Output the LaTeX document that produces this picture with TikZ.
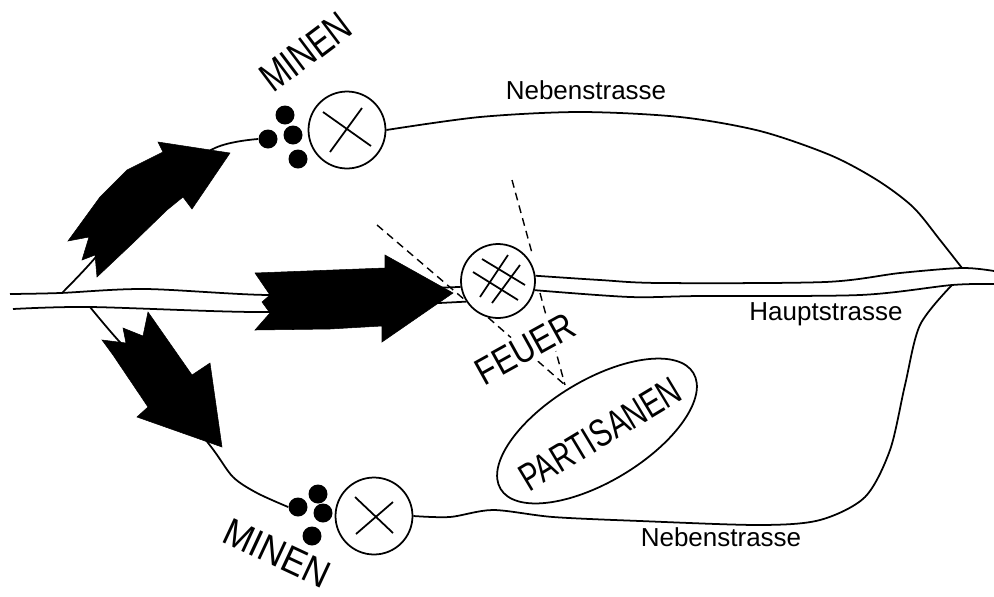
\documentclass[tikz,border=0pt]{standalone}
\usepackage{fontspec}
\setmainfont{Liberation Sans}
\usetikzlibrary{positioning,shapes.geometric}

\begin{document}
\begin{tikzpicture}[x=0.02cm,y=0.02cm]
        \tikzstyle{every node}+=[inner sep=0pt]
        \tikzstyle{road}=[black,line width=1pt]
        \tikzstyle{ring}=[draw=black,fill=white,circle,line width=1pt,minimum size=1.54cm]
        \tikzstyle{mine}=[fill=black,circle,minimum size=0.38cm]
        \tikzstyle{fire}=[black,line width=0.8pt,dash pattern=on 4.5pt off 3pt]
        \tikzstyle{push}=[fill=black,draw=black,line width=0.3pt]
        \tikzstyle{roadname}=[font=\fontsize{14.8}{17}\selectfont]
        \tikzstyle{hand}=[font=\fontsize{18}{20}\selectfont]
        \useasboundingbox (0,0) rectangle (994,-596);
        \node [ring] (sapTop) at (347,-130) {};
        \node [ring] (sapBottom) at (374,-516) {};
        \node [ring,minimum size=1.48cm] (crossing) at (498,-281) {};
        \node [mine] (mineA) at (285,-115) {};
        \node [mine] (mineB) at (268,-139) {};
        \node [mine] (mineC) at (293,-135) {};
        \node [mine] (mineD) at (298,-159) {};
        \node [mine] (mineE) at (318,-494) {};
        \node [mine] (mineF) at (298,-507) {};
        \node [mine] (mineG) at (323,-513) {};
        \node [mine] (mineH) at (312,-536) {};
        \node [draw=black,ellipse,line width=1pt,rotate=31,minimum width=4.5cm,minimum height=2.03cm] (camp) at (597,-431) {};
        \node [rotate=31,font=\fontsize{16.4}{18}\selectfont] (partisanen) at (600,-434) {\scalebox{1}[1.35]{PARTISANEN}};
        \coordinate (westTop) at (10,-294);
        \coordinate (westBottom) at (13,-309);
        \coordinate (eastTop) at (994,-271);
        \coordinate (eastBottom) at (994,-284);
        \coordinate (forkNorth) at (962,-268);
        \coordinate (forkSouth) at (952,-285);
        \coordinate (forkWestA) at (62,-293);
        \coordinate (forkWestB) at (90,-307);
        \coordinate (fireA) at (377,-225);
        \coordinate (fireB) at (512,-180);
        \coordinate (fireBa) at (532,-253);
        \coordinate (fireBb) at (540,-293);
        \coordinate (target) at (565,-385);
        \draw [road] plot [smooth] coordinates {(westTop) (60,-293) (145,-289) (270,-295) (380,-290) (crossing.189)};
        \draw [road] plot [smooth] coordinates {(westBottom) (90,-307) (260,-312) (380,-306) (crossing.213)};
        \draw [road] plot [smooth] coordinates {(crossing.8) (600,-280) (660,-283) (825,-282) (900,-273) (forkNorth) (eastTop)};
        \draw [road] plot [smooth] coordinates {(crossing.346) (630,-297) (700,-296) (860,-295) (forkSouth) (eastBottom)};
        \draw [road] plot [smooth] coordinates {(sapTop.east) (480,-117) (580,-112) (680,-117) (760,-131) (830,-155) (877,-180) (913,-207) (940,-240) (forkNorth)};
        \draw [road] plot [smooth] coordinates {(sapBottom.east) (450,-517) (493,-510) (553,-517) (640,-521) (760,-525) (820,-520) (865,-497) (890,-450) (905,-385) (920,-325) (forkSouth)};
        \draw [road] plot [smooth] coordinates {(forkWestA) (95,-258) (150,-190) (215,-148) (mineB.west)};
        \draw [road] plot [smooth] coordinates {(forkWestB) (118,-340) (170,-395) (212,-448) (233,-477) (257,-493) (mineF.west)};
        \draw [fire] (fireA) -- (crossing.211);
        \draw [fire] (crossing.255) -- (target);
        \draw [fire] (fireB) -- (fireBa);
        \draw [fire] (fireBb) -- (target);
        \fill [push] (68,-241) -- (89,-237) -- (82,-260) -- (95,-255) -- (97,-277) -- (133,-243) -- (167,-210) -- (183,-197) -- (192,-209) -- (230,-153) -- (158,-142) -- (163,-152) -- (127,-170) -- (100,-197) -- cycle;
        \fill [push] (255,-273) -- (385,-268) -- (385,-255) -- (453,-293) -- (382,-342) -- (382,-326) -- (330,-329) -- (255,-330) -- (270,-313) -- (262,-302) -- (270,-295) -- cycle;
        \fill [push] (102,-340) -- (126,-343) -- (123,-328) -- (143,-336) -- (148,-312) -- (192,-375) -- (210,-363) -- (222,-447) -- (137,-417) -- (148,-407) -- (113,-355) -- cycle;
        \draw [road] (323,-112) -- (371,-146);
        \draw [road] (330,-152) -- (362,-108);
        \draw [road] (355,-497) -- (393,-533);
        \draw [road] (356,-534) -- (393,-502);
        \draw [road] (482,-259) -- (525,-285);
        \draw [road] (473,-272) -- (518,-300);
        \draw [road] (480,-297) -- (508,-255);
        \draw [road] (492,-303) -- (520,-265);
        \node [roadname] (sideNorth) at (586,-90) {Nebenstrasse};
        \node [roadname] (sideSouth) at (721,-537) {Nebenstrasse};
        \node [roadname] (mainRoad) at (826,-314) {Hauptstrasse};
        \node [hand,rotate=37] (minenTop) at (306,-52) {\scalebox{1}[1.3]{MINEN}};
        \node [rotate=-25,font=\fontsize{20}{22}\selectfont] (minenBottom) at (277,-553) {\scalebox{1}[1.1]{MINEN}};
        \node [hand,rotate=29,fill=white,inner sep=2pt] (feuer) at (525,-349) {\scalebox{1}[1.2]{FEUER}};
    \end{tikzpicture}
\end{document}
